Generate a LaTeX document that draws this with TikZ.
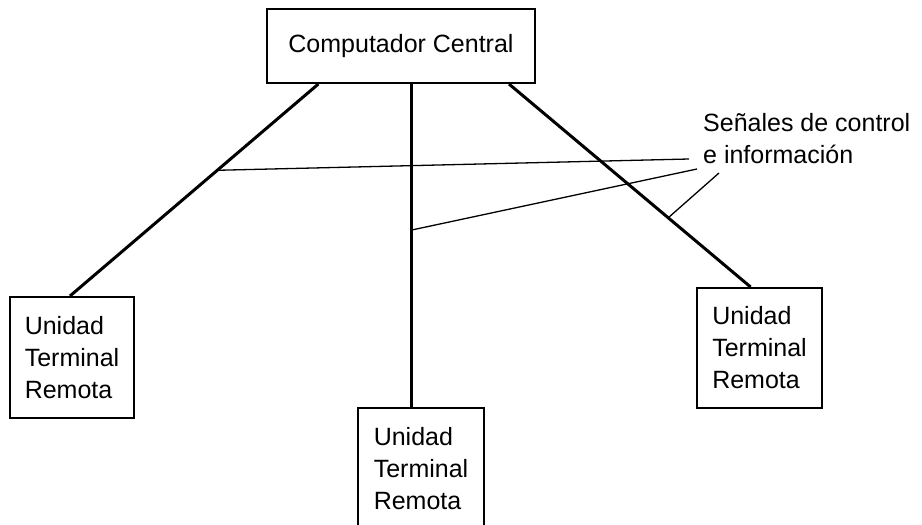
\documentclass[tikz,border=0pt]{standalone}
\usepackage{fontspec}
\setmainfont{Liberation Sans}
\usetikzlibrary{calc}
\begin{document}
\begin{tikzpicture}[x=1pt,y=-1pt,
  lbl/.style={font=\fontsize{25}{32}\selectfont},
  unit/.style={draw, line width=2pt, lbl, align=left, inner sep=0pt, anchor=north west},
  trunk/.style={line width=3pt},
  leader/.style={line width=1.3pt}]
\useasboundingbox (0,0) rectangle (922,525);

% central computer and the three remote terminal units
\node[unit, minimum width=268, minimum height=74, align=center] (cc) at (266,8) {Computador Central};
\node[unit, minimum width=124, minimum height=121] (rtuL) at (9,296) {Unidad\\Terminal\\Remota};
\node[unit, minimum width=126, minimum height=121] (rtuM) at (357,407) {Unidad\\Terminal\\Remota};
\node[unit, minimum width=125, minimum height=120] (rtuR) at (696,287) {Unidad\\Terminal\\Remota};

% links from the central computer
\coordinate (aL) at ($(cc.south west)!0.194!(cc.south east)$);
\coordinate (bL) at ($(rtuL.north west)!0.484!(rtuL.north east)$);
\coordinate (aM) at ($(cc.south west)!0.54!(cc.south east)$);
\coordinate (bM) at (aM |- rtuM.north);
\coordinate (aR) at ($(cc.south west)!0.90!(cc.south east)$);
\coordinate (bR) at ($(rtuR.north west)!0.43!(rtuR.north east)$);
\draw[trunk] (aL) -- (bL);
\draw[trunk] (aM) -- (bM);
\draw[trunk] (aR) -- (bR);

% label and its leader lines
\node[lbl, align=left, inner sep=0pt, anchor=west] (sig) at (703,139) {Señales de control\\e información};
\draw[leader] ($(aL)!0.407!(bL)$) -- ([shift={(-14,20)}]sig.west);
\draw[leader] ($(aM)!0.452!(bM)$) -- ([shift={(-6,30)}]sig.west);
\draw[leader] ($(aR)!0.659!(bR)$) -- ([shift={(16,34)}]sig.west);
\end{tikzpicture}
\end{document}
